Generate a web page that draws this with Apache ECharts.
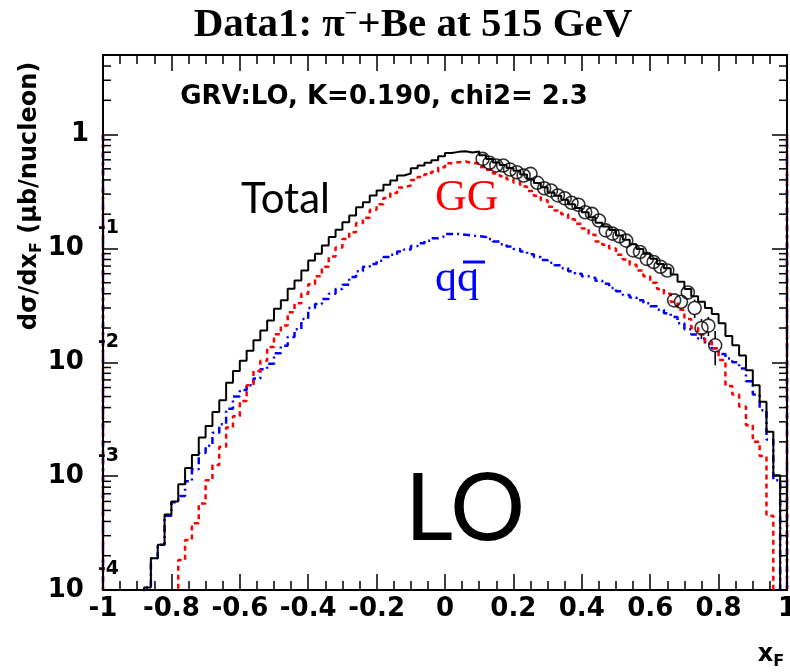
<!DOCTYPE html>
<html><head><meta charset="utf-8">
<script src="https://cdn.jsdelivr.net/npm/echarts@6/dist/echarts.min.js"></script>
<style>html,body{margin:0;padding:0;background:#fff}#c{width:790px;height:672px}</style>
</head><body><div id="c"></div>
<script>
// ---- axis settings ----
const X_MIN = -1, X_MAX = 1, BIN_WIDTH = 0.02;
const Y_MIN = 1e-4, Y_MAX = 5;
const EDGE_LEVEL = 1;      // level where the histogram outline starts at the frame edges
const FLOOR = 1e-7;        // empty bin (below the axis)
const yDecadeExp = [-4, -3, -2, -1, 0];

// ---- histogram bin contents (100 bins of 0.02 from -1 to 1), null = empty ----
const totalVals = [
  null, null, null, null, null, null, 1.05e-4, 1.9e-4, 2.5e-4, 4.6e-4,
  6.0e-4, 8.5e-4, 1.18e-3, 1.53e-3, 2.19e-3, 2.76e-3, 3.66e-3, 4.64e-3, 6.6e-3, 8.4e-3,
  0.0103, 0.0126, 0.0156, 0.019, 0.0233, 0.0296, 0.035, 0.0442, 0.0524, 0.064,
  0.0785, 0.0898, 0.106, 0.126, 0.146, 0.170, 0.195, 0.230, 0.255, 0.292,
  0.323, 0.362, 0.395, 0.437, 0.455, 0.505, 0.535, 0.565, 0.595, 0.645,
  0.69, 0.705, 0.715, 0.695, 0.71, 0.66, 0.61, 0.57, 0.54, 0.51,
  0.48, 0.445, 0.41, 0.375, 0.345, 0.31, 0.29, 0.268, 0.245, 0.226,
  0.208, 0.188, 0.168, 0.156, 0.145, 0.130, 0.119, 0.109, 0.099, 0.090,
  0.081, 0.073, 0.067, 0.059, 0.051, 0.044, 0.038, 0.034, 0.030, 0.0265,
  0.022, 0.017, 0.0141, 0.0115, 0.0085, 0.0063, 0.0045, 0.00245, 0.00102, null
];
const ggVals = [
  null, null, null, null, null, null, null, null, null, null,
  null, 1.83e-4, 2.75e-4, 3.85e-4, 5.75e-4, 9.2e-4, 1.25e-3, 1.81e-3, 2.67e-3, 3.36e-3,
  4.58e-3, 6.3e-3, 8.4e-3, 0.0103, 0.0136, 0.0176, 0.021, 0.0275, 0.033, 0.040,
  0.0485, 0.057, 0.069, 0.085, 0.102, 0.121, 0.139, 0.167, 0.186, 0.219,
  0.245, 0.278, 0.307, 0.343, 0.357, 0.400, 0.424, 0.448, 0.472, 0.517,
  0.56, 0.572, 0.58, 0.565, 0.553, 0.52, 0.49, 0.455, 0.43, 0.405,
  0.38, 0.35, 0.32, 0.29, 0.265, 0.232, 0.215, 0.20, 0.18, 0.165,
  0.15, 0.132, 0.115, 0.108, 0.100, 0.088, 0.080, 0.072, 0.064, 0.057,
  0.050, 0.044, 0.040, 0.034, 0.029, 0.024, 0.020, 0.0175, 0.0152, 0.0133,
  0.0105, 0.0062, 0.0052, 0.0041, 0.0028, 0.0020, 0.0015, 0.00045, null, null
];
const qqVals = [
  null, null, null, null, null, null, 1.05e-4, 1.9e-4, 2.5e-4, 4.5e-4,
  5.9e-4, 6.7e-4, 9.0e-4, 1.15e-3, 1.6e-3, 1.85e-3, 2.4e-3, 2.85e-3, 3.9e-3, 5.0e-3,
  5.7e-3, 6.3e-3, 7.2e-3, 8.7e-3, 9.7e-3, 0.012, 0.014, 0.0167, 0.0195, 0.024,
  0.030, 0.0325, 0.036, 0.040, 0.044, 0.048, 0.056, 0.063, 0.069, 0.073,
  0.078, 0.084, 0.088, 0.094, 0.098, 0.105, 0.111, 0.117, 0.123, 0.128,
  0.134, 0.134, 0.132, 0.130, 0.128, 0.126, 0.121, 0.115, 0.109, 0.104,
  0.099, 0.094, 0.089, 0.084, 0.079, 0.075, 0.071, 0.067, 0.063, 0.060,
  0.057, 0.055, 0.052, 0.049, 0.045, 0.042, 0.039, 0.037, 0.035, 0.033,
  0.031, 0.029, 0.027, 0.025, 0.022, 0.0195, 0.0175, 0.0162, 0.0145, 0.0133,
  0.0118, 0.0108, 0.0100, 0.0088, 0.0068, 0.0052, 0.0038, 0.0021, 0.00092, null
];

// ---- measured data points ----
const dataX = [0.11,0.13,0.15,0.17,0.19,0.21,0.23,0.25,0.27,0.29,0.31,0.33,0.35,0.37,0.39,0.41,0.43,0.45,0.47,0.49,
               0.51,0.53,0.55,0.57,0.59,0.61,0.63,0.65,0.67,0.69,0.71,0.73,0.75,0.77,0.79];
const dataY = [0.612,0.565,0.535,0.535,0.493,0.467,0.437,0.452,0.377,0.338,0.323,0.292,0.276,0.252,0.242,0.208,0.201,0.176,0.144,0.135,
               0.128,0.117,0.096,0.093,0.081,0.076,0.069,0.064,0.035,0.034,0.041,0.030,0.020,0.021,0.0141];
const dataErr = [0.015,0.014,0.013,0.013,0.012,0.012,0.011,0.011,0.010,0.009,0.009,0.008,0.008,0.007,0.007,0.006,0.006,0.006,0.005,0.005,
                 0.005,0.004,0.004,0.004,0.004,0.004,0.004,0.004,0.004,0.004,0.004,0.0055,0.004,0.004,0.0047];

// ---- build step outlines (ROOT-like histogram) ----
function histPoints(vals) {
  const pts = [[X_MIN, EDGE_LEVEL]];
  for (let i = 0; i < vals.length; i++) {
    pts.push([X_MIN + i * BIN_WIDTH, vals[i] == null ? FLOOR : vals[i]]);
  }
  pts.push([X_MAX, FLOOR]);
  pts.push([X_MAX, EDGE_LEVEL]);
  return pts;
}
const minorTickVals = [];
for (const e of yDecadeExp) {
  for (let m = 2; m <= 9; m++) {
    const v = m * Math.pow(10, e);
    if (v < Y_MAX) minorTickVals.push([0, v]);
  }
}

const SANS = 'DejaVu Sans';
const chart = echarts.init(document.getElementById('c'));

function yLabel(v) {
  const ex = Math.log10(v);
  const r = Math.round(ex);
  if (Math.abs(ex - r) > 1e-6) return '';
  if (r === 0) return '{one|1}';
  return '{b|10}{e|' + r + '}';
}

const yAxisBase = {
  type: 'log', logBase: 10, min: Y_MIN, max: Y_MAX,
  axisLine: { show: true, onZero: false, lineStyle: { color: '#000', width: 2 } },
  axisTick: { show: true, inside: true, length: 15, lineStyle: { color: '#000', width: 1.5 } },
  splitLine: { show: false },
  minorTick: { show: false }
};
const xAxisBase = {
  type: 'value', min: X_MIN, max: X_MAX, interval: 0.2,
  axisLine: { show: true, onZero: false, lineStyle: { color: '#000', width: 2 } },
  axisTick: { show: true, inside: true, length: 16, lineStyle: { color: '#000', width: 1.5 } },
  minorTick: { show: true, splitNumber: 4, length: 9, lineStyle: { color: '#000', width: 1.5 } },
  splitLine: { show: false }
};

const option = {
  animation: false,
  backgroundColor: '#fff',
  grid: { left: 103, right: 3, top: 55, bottom: 82, outerBoundsMode: 'none', containLabel: false },
  xAxis: [
    Object.assign({}, xAxisBase, {
      position: 'bottom',
      axisLabel: { show: true, margin: 6, color: '#000', fontFamily: SANS, fontWeight: 'bold', fontSize: 26,
                   showMinLabel: true, showMaxLabel: true,
                   formatter: v => String(Math.round(v * 10) / 10) }
    }),
    Object.assign({}, xAxisBase, { position: 'top', axisLabel: { show: false } })
  ],
  yAxis: [
    Object.assign({}, yAxisBase, {
      position: 'left',
      axisLabel: {
        show: true, margin: -16, formatter: yLabel,
        rich: {
          b: { fontFamily: SANS, fontWeight: 'bold', fontSize: 26, lineHeight: 60, color: '#000' },
          e: { fontFamily: SANS, fontWeight: 'bold', fontSize: 19, lineHeight: 19, verticalAlign: 'top', color: '#000', padding: [0, 0, 0, 14] },
          one: { fontFamily: SANS, fontWeight: 'bold', fontSize: 26, lineHeight: 26, color: '#000', padding: [0, 30, 0, 0] }
        }
      }
    }),
    Object.assign({}, yAxisBase, { position: 'right', axisLabel: { show: false } })
  ],
  series: [
    { name: 'qq', type: 'line', step: 'end', symbol: 'none', data: histPoints(qqVals), z: 3,
      lineStyle: { color: '#0000ff', width: 2.5, type: [7, 4, 2, 4] } },
    { name: 'GG', type: 'line', step: 'end', symbol: 'none', data: histPoints(ggVals), z: 4,
      lineStyle: { color: '#ff0000', width: 2.5, type: [5, 4] } },
    { name: 'Total', type: 'line', step: 'end', symbol: 'none', data: histPoints(totalVals), z: 5,
      lineStyle: { color: '#000', width: 2 } },
    { name: 'data', type: 'scatter', data: dataX.map((x, i) => [x, dataY[i]]), z: 7,
      symbol: 'circle', symbolSize: 13,
      itemStyle: { color: 'rgba(0,0,0,0)', borderColor: '#000', borderWidth: 1.6 } },
    { name: 'err', type: 'custom', z: 6, silent: true,
      data: dataX.map((x, i) => [x, dataY[i], dataErr[i]]),
      encode: { x: 0, y: 1 },
      renderItem: (params, api) => {
        const x = api.value(0), y = api.value(1), e = api.value(2);
        const c = api.coord([x, y]);
        const lo = api.coord([x, y - e]);
        const hi = api.coord([x, y + e]);
        const r = 6.5;
        const ch = [];
        if (lo[1] > c[1] + r) ch.push({ type: 'line', shape: { x1: c[0], y1: c[1] + r, x2: c[0], y2: lo[1] }, style: { stroke: '#000', lineWidth: 1.6 } });
        if (hi[1] < c[1] - r) ch.push({ type: 'line', shape: { x1: c[0], y1: hi[1], x2: c[0], y2: c[1] - r }, style: { stroke: '#000', lineWidth: 1.6 } });
        return { type: 'group', children: ch };
      } },
    { name: 'yMinorTicks', type: 'custom', z: 8, silent: true, clip: false,
      data: minorTickVals, encode: { x: 0, y: 1 },
      renderItem: (params, api) => {
        const cs = params.coordSys;
        const y = api.coord([0, api.value(1)])[1];
        return { type: 'group', children: [
          { type: 'line', shape: { x1: cs.x, y1: y, x2: cs.x + 8, y2: y }, style: { stroke: '#000', lineWidth: 1.5 } },
          { type: 'line', shape: { x1: cs.x + cs.width - 8, y1: y, x2: cs.x + cs.width, y2: y }, style: { stroke: '#000', lineWidth: 1.5 } }
        ] };
      } }
  ],
  graphic: [
    { type: 'text', x: 413, y: 25, style: {
        text: '{t|Data1: π}{s|−}{t|+Be at 515 GeV}', align: 'center', verticalAlign: 'middle',
        rich: { t: { fontFamily: 'Liberation Serif', fontWeight: 'bold', fontSize: 41, lineHeight: 44, fill: '#000' },
                s: { fontFamily: 'Liberation Serif', fontWeight: 'bold', fontSize: 22, lineHeight: 22, verticalAlign: 'top', fill: '#000' } } } },
    { type: 'text', x: 384, y: 97, style: { text: 'GRV:LO, K=0.190, chi2= 2.3', fontFamily: SANS, fontWeight: 'bold', fontSize: 26,
        fill: '#000', align: 'center', verticalAlign: 'middle' } },
    { type: 'text', x: 30, y: 196, rotation: Math.PI / 2, style: {
        text: '{m|dσ/dx}{s|F}{m| (μb/nucleon)}', align: 'center', verticalAlign: 'middle',
        rich: { m: { fontFamily: SANS, fontWeight: 'bold', fontSize: 24, lineHeight: 30, fill: '#000' },
                s: { fontFamily: SANS, fontWeight: 'bold', fontSize: 16, lineHeight: 14, verticalAlign: 'bottom', fill: '#000' } } } },
    { type: 'text', x: 771, y: 655, style: {
        text: '{m|x}{s|F}', align: 'center', verticalAlign: 'middle',
        rich: { m: { fontFamily: SANS, fontWeight: 'bold', fontSize: 24, lineHeight: 30, fill: '#000' },
                s: { fontFamily: SANS, fontWeight: 'bold', fontSize: 16, lineHeight: 14, verticalAlign: 'bottom', fill: '#000' } } } },
    { type: 'text', x: 241, y: 199, style: { text: 'Total', fontFamily: 'Lato', fontSize: 42, fill: '#000', align: 'left', verticalAlign: 'middle' } },
    { type: 'text', x: 435, y: 198, style: { text: 'GG', fontFamily: 'Liberation Serif', fontSize: 44, fill: '#ff0000', align: 'left', verticalAlign: 'middle' } },
    { type: 'text', x: 435, y: 279, style: { text: 'qq', fontFamily: 'Liberation Serif', fontSize: 44, fill: '#0000ff', align: 'left', verticalAlign: 'middle' } },
    { type: 'line', shape: { x1: 463, y1: 262, x2: 485, y2: 262 }, style: { stroke: '#0000ff', lineWidth: 3 } },
    { type: 'text', x: 465, y: 510, style: { text: 'LO', fontFamily: 'Lato', fontSize: 94, fill: '#000', align: 'center', verticalAlign: 'middle' } }
  ]
};
chart.setOption(option);
</script>
</body></html>
